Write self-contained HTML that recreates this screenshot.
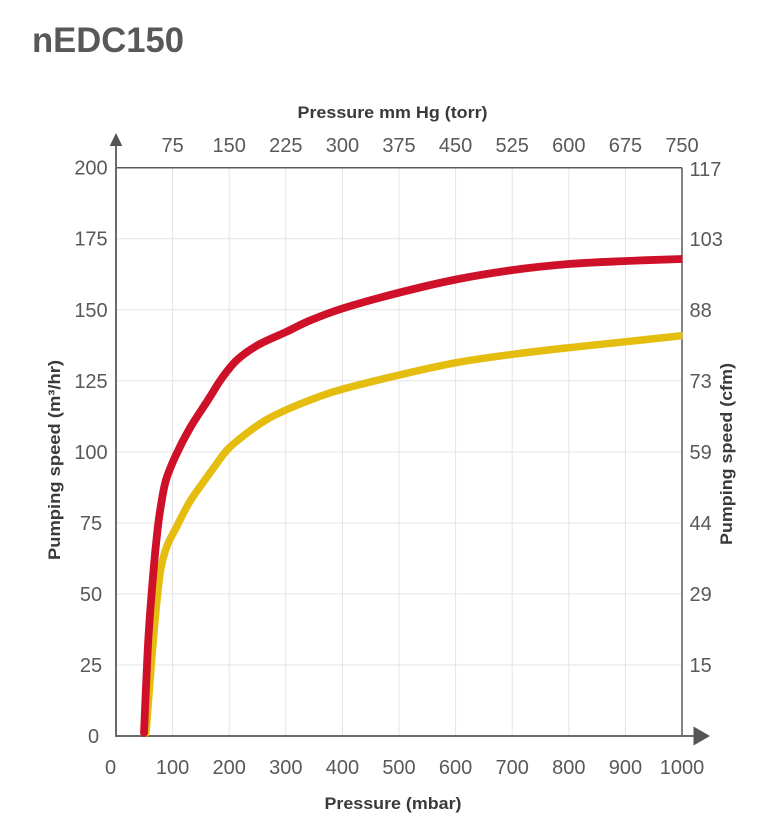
<!DOCTYPE html>
<html>
<head>
<meta charset="utf-8">
<style>
  html,body{margin:0;padding:0;background:#fff;}
  svg{display:block;}
  text{font-family:"Liberation Sans", Arial, sans-serif;}
</style>
</head>
<body>
<svg width="765" height="840" viewBox="0 0 765 840" xmlns="http://www.w3.org/2000/svg">
  <defs>
    <clipPath id="pc"><rect x="0" y="0" width="682.5" height="840"/></clipPath>
  </defs>
  <rect width="765" height="840" fill="#fff"/>
  <!-- Title -->
  <text x="32" y="52" font-size="35" font-weight="bold" fill="#58585a" textLength="152" lengthAdjust="spacingAndGlyphs">nEDC150</text>

  <!-- gridlines -->
  <g stroke="#e4e4e4" stroke-width="1">
    <line x1="172.6" y1="168" x2="172.6" y2="736"/>
    <line x1="229.2" y1="168" x2="229.2" y2="736"/>
    <line x1="285.8" y1="168" x2="285.8" y2="736"/>
    <line x1="342.4" y1="168" x2="342.4" y2="736"/>
    <line x1="399" y1="168" x2="399" y2="736"/>
    <line x1="455.6" y1="168" x2="455.6" y2="736"/>
    <line x1="512.2" y1="168" x2="512.2" y2="736"/>
    <line x1="568.8" y1="168" x2="568.8" y2="736"/>
    <line x1="625.4" y1="168" x2="625.4" y2="736"/>
    <line x1="116" y1="238.7" x2="682" y2="238.7"/>
    <line x1="116" y1="309.8" x2="682" y2="309.8"/>
    <line x1="116" y1="380.8" x2="682" y2="380.8"/>
    <line x1="116" y1="451.9" x2="682" y2="451.9"/>
    <line x1="116" y1="522.9" x2="682" y2="522.9"/>
    <line x1="116" y1="593.9" x2="682" y2="593.9"/>
    <line x1="116" y1="665" x2="682" y2="665"/>
  </g>

  <!-- border top/right -->
  <line x1="116" y1="167.7" x2="682" y2="167.7" stroke="#5a5a5a" stroke-width="1.5"/>
  <line x1="682" y1="167.7" x2="682" y2="736" stroke="#5a5a5a" stroke-width="1.5"/>

  <!-- axes -->
  <line x1="116" y1="142" x2="116" y2="736" stroke="#6a6a6a" stroke-width="2"/>
  <line x1="115" y1="736" x2="696" y2="736" stroke="#6a6a6a" stroke-width="2"/>
  <polygon points="116,133 109.7,146 122.3,146" fill="#555"/>
  <polygon points="710,736 693.5,726.5 693.5,745.5" fill="#555"/>

  <!-- curves -->
  <g clip-path="url(#pc)" fill="none" stroke-linejoin="round" stroke-linecap="round">
    <path stroke="#e4bd0f" stroke-width="7.5" d="M146,733
      C146.55,725.83 148.08,705.5 149.3,690
      C150.52,674.5 152.02,655 153.3,640
      C154.58,625 155.72,612 157,600
      C158.28,588 159.33,577 161,568
      C162.67,559 164.42,552.83 167,546
      C169.58,539.17 172.83,534.17 176.5,527
      C180.17,519.83 184.75,510.17 189,503
      C193.25,495.83 197.67,490.17 202,484
      C206.33,477.83 210.67,471.83 215,466
      C219.33,460.17 222.72,454.45 228,449
      C233.28,443.55 240.37,438.13 246.7,433.3
      C253.03,428.47 259.28,423.97 266,420
      C272.72,416.03 278.55,413.25 287,409.5
      C295.45,405.75 307.37,400.92 316.7,397.5
      C326.03,394.08 329.23,392.75 343,389
      C356.77,385.25 380.47,379.38 399.3,375
      C418.13,370.62 437.05,366.15 456,362.7
      C474.95,359.25 494.17,356.8 513,354.3
      C531.83,351.8 550.17,349.8 569,347.7
      C587.83,345.6 607.17,343.7 626,341.7
      C644.83,339.7 672.67,336.7 682,335.7"/>
    <path stroke="#cf1029" stroke-width="7.8" d="M144,733
      C144.72,717.5 146.75,666.67 148.3,640
      C149.85,613.33 151.77,591.33 153.3,573
      C154.83,554.67 156.22,541.33 157.5,530
      C158.78,518.67 159.58,513.33 161,505
      C162.42,496.67 163.5,488.33 166,480
      C168.5,471.67 172,463.67 176,455
      C180,446.33 184.67,437.17 190,428
      C195.33,418.83 202.67,408.33 208,400
      C213.33,391.67 217.17,384.67 222,378
      C226.83,371.33 231,365.5 237,360
      C243,354.5 249.83,349.67 258,345
      C266.17,340.33 277.33,336.08 286,332
      C294.67,327.92 300.5,324.45 310,320.5
      C319.5,316.55 328.17,312.93 343,308.3
      C357.83,303.67 380.17,297.5 399,292.7
      C417.83,287.9 437,283.28 456,279.5
      C475,275.72 494.17,272.58 513,270
      C531.83,267.42 550.17,265.5 569,264
      C587.83,262.5 607.17,261.83 626,261
      C644.83,260.17 672.67,259.33 682,259"/>
  </g>

  <!-- left tick labels -->
  <g font-size="20" fill="#595959" text-anchor="middle">
    <text x="91" y="174.7">200</text>
    <text x="91" y="245.7">175</text>
    <text x="91" y="316.8">150</text>
    <text x="91" y="387.8">125</text>
    <text x="91" y="458.9">100</text>
    <text x="91" y="529.9">75</text>
    <text x="91" y="600.9">50</text>
    <text x="91" y="672">25</text>
    <text x="93.5" y="743">0</text>
  </g>

  <!-- right tick labels -->
  <g font-size="20" fill="#595959" text-anchor="start">
    <text x="689.5" y="176">117</text>
    <text x="689.5" y="246">103</text>
    <text x="689.5" y="316.8">88</text>
    <text x="689.5" y="387.8">73</text>
    <text x="689.5" y="458.9">59</text>
    <text x="689.5" y="529.9">44</text>
    <text x="689.5" y="600.9">29</text>
    <text x="689.5" y="672">15</text>
  </g>

  <!-- bottom tick labels -->
  <g font-size="20" fill="#595959" text-anchor="middle">
    <text x="110.5" y="774">0</text>
    <text x="172.6" y="774">100</text>
    <text x="229.2" y="774">200</text>
    <text x="285.8" y="774">300</text>
    <text x="342.4" y="774">400</text>
    <text x="399" y="774">500</text>
    <text x="455.6" y="774">600</text>
    <text x="512.2" y="774">700</text>
    <text x="568.8" y="774">800</text>
    <text x="625.4" y="774">900</text>
    <text x="682" y="774">1000</text>
  </g>

  <!-- top tick labels -->
  <g font-size="20" fill="#595959" text-anchor="middle">
    <text x="172.6" y="152">75</text>
    <text x="229.2" y="152">150</text>
    <text x="285.8" y="152">225</text>
    <text x="342.4" y="152">300</text>
    <text x="399" y="152">375</text>
    <text x="455.6" y="152">450</text>
    <text x="512.2" y="152">525</text>
    <text x="568.8" y="152">600</text>
    <text x="625.4" y="152">675</text>
    <text x="682" y="152">750</text>
  </g>

  <!-- axis titles -->
  <g font-size="17" font-weight="bold" fill="#3a3a3a" text-anchor="middle">
    <text x="392.5" y="118" textLength="190" lengthAdjust="spacingAndGlyphs">Pressure mm Hg (torr)</text>
    <text x="393" y="809" textLength="137" lengthAdjust="spacingAndGlyphs">Pressure (mbar)</text>
    <text transform="translate(60,460) rotate(-90)" x="0" y="0" textLength="200" lengthAdjust="spacingAndGlyphs">Pumping speed (m³/hr)</text>
    <text transform="translate(732,454) rotate(-90)" x="0" y="0" textLength="182" lengthAdjust="spacingAndGlyphs">Pumping speed (cfm)</text>
  </g>
</svg>
</body>
</html>
